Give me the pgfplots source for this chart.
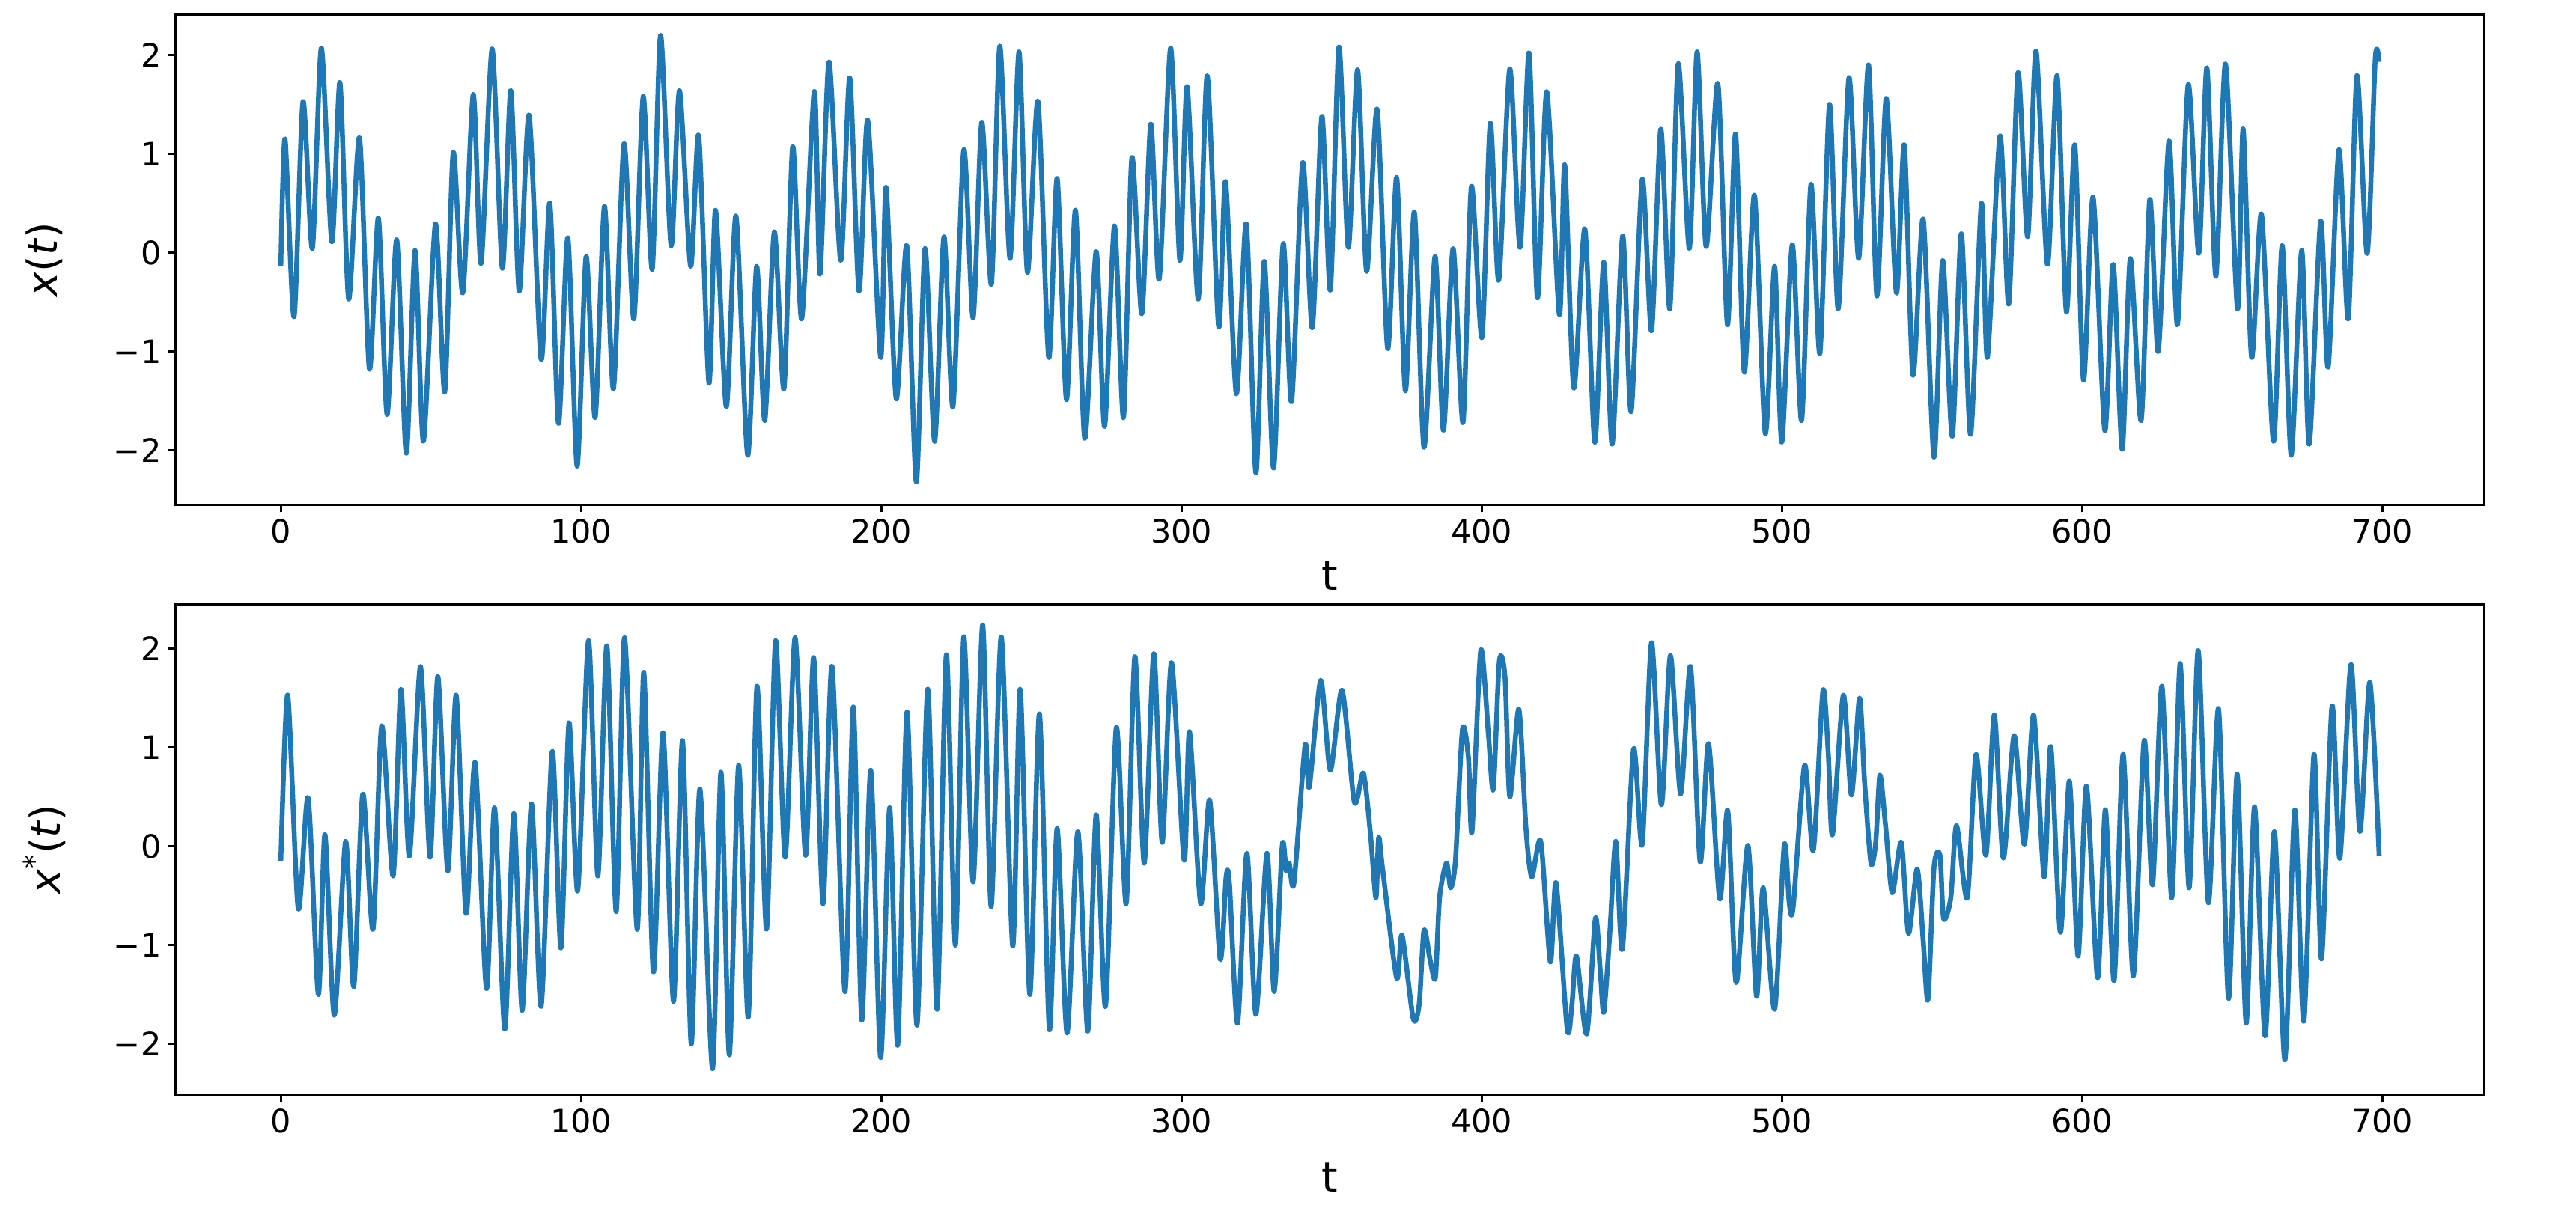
\documentclass[border=0pt]{standalone}
\usepackage{fontspec}
\setmainfont{DejaVu Sans}
\usepackage{pgfplots}
\pgfplotsset{compat=1.18}
\definecolor{mplblue}{HTML}{1F77B4}
\pgfplotsset{
  myax/.style={
    scale only axis, width=896bp, height=190.3bp,
    xmin=-34.95, xmax=733.95,
    axis line style={black, line width=0.9bp},
    tick style={black, line width=0.9bp},
    tick align=outside, tick pos=left,
    major tick length=3bp,
    xtick={0,100,200,300,400,500,600,700},
    xticklabels={0,100,200,300,400,500,600,700},
    ytick={-2,-1,0,1,2},
    yticklabels={−2,−1,0,1,2},
    tick label style={font=\fontsize{12.5bp}{14bp}\selectfont},
    xticklabel style={inner sep=2.5bp},
    yticklabel style={inner sep=2.5bp},
    label style={font=\fontsize{16bp}{19bp}\selectfont},
    xlabel={t},
    ylabel style={at={(axis description cs:-0.057,0.5)}, anchor=center, rotate=0},
  },
  myline/.style={mplblue, line width=1.9bp, line join=round, no markers, smooth, tension=0.45},
}
\begin{document}
\begin{tikzpicture}
\useasboundingbox (-68.3bp,-50.9bp) rectangle (931.7bp,424.9bp);
\begin{axis}[myax, at={(0bp,229bp)}, anchor=south west, ymin=-2.55, ymax=2.41,
  xlabel style={at={(axis description cs:0.5,-0.145)}, anchor=center},
  ylabel={\textit{x}(\textit{t})}]
\addplot[myline] coordinates {
(0,-0.14) (1.4,1.15) (4.4,-0.65) (7.4,1.53) (10.5,0.04) (13.5,2.07) (17.0,0.11) (19.7,1.72)
(22.6,-0.47) (26.2,1.16) (29.5,-1.18) (32.5,0.35) (35.4,-1.64) (38.6,0.13) (41.8,-2.03) (44.7,0.02)
(47.5,-1.91) (51.5,0.29) (54.6,-1.41) (57.4,1.01) (60.6,-0.41) (64.1,1.60) (66.7,-0.11) (70.4,2.06)
(73.8,-0.16) (76.6,1.64) (79.4,-0.39) (82.7,1.39) (86.7,-1.08) (89.6,0.50) (92.5,-1.73) (95.6,0.15)
(98.7,-2.16) (101.7,-0.04) (104.7,-1.67) (107.8,0.47) (110.8,-1.38) (114.3,1.10) (117.6,-0.67) (120.7,1.58)
(123.7,-0.17) (126.5,2.20) (130.0,0.07) (132.8,1.64) (136.5,-0.14) (139.2,1.18) (142.6,-1.32) (144.8,0.43)
(148.4,-1.56) (151.6,0.37) (155.5,-2.05) (158.5,-0.14) (161.2,-1.70) (164.4,0.21) (167.6,-1.38) (170.5,1.07)
(173.5,-0.67) (177.7,1.63) (179.6,-0.22) (182.6,1.93) (186.5,-0.08) (189.5,1.77) (192.6,-0.39) (195.5,1.34)
(199.8,-1.06) (201.6,0.66) (205.0,-1.48) (208.5,0.07) (211.7,-2.32) (214.6,0.04) (217.8,-1.91) (220.9,0.16)
(223.9,-1.56) (227.5,1.04) (230.6,-0.66) (233.5,1.32) (236.7,-0.32) (239.5,2.09) (242.9,-0.06) (245.9,2.03)
(248.7,-0.20) (252.2,1.53) (255.8,-1.06) (258.6,0.75) (261.7,-1.49) (264.7,0.43) (267.8,-1.88) (271.6,0.01)
(274.4,-1.76) (277.7,0.27) (280.7,-1.67) (283.5,0.96) (286.8,-0.62) (289.8,1.30) (292.6,-0.27) (296.4,2.07)
(299.5,-0.08) (301.9,1.68) (305.6,-0.47) (308.6,1.79) (312.4,-0.75) (314.7,0.72) (318.3,-1.43) (321.6,0.29)
(324.8,-2.23) (327.6,-0.09) (330.7,-2.18) (333.9,0.09) (336.7,-1.51) (340.4,0.91) (343.6,-0.76) (346.8,1.38)
(349.6,-0.38) (352.5,2.08) (355.6,0.05) (358.7,1.85) (361.7,-0.19) (365.2,1.45) (368.7,-0.97) (371.7,0.76)
(374.6,-1.40) (377.6,0.41) (380.8,-1.97) (384.5,-0.04) (387.3,-1.80) (390.5,0.04) (393.8,-1.72) (396.6,0.67)
(400.1,-0.86) (402.9,1.31) (405.7,-0.28) (409.4,1.86) (412.8,0.05) (415.8,2.02) (418.6,-0.46) (421.7,1.63)
(425.9,-0.63) (427.7,0.89) (430.7,-1.37) (434.4,0.24) (437.7,-1.92) (440.7,-0.10) (443.5,-1.94) (447.0,0.17)
(449.8,-1.61) (453.5,0.74) (456.6,-0.79) (459.7,1.25) (462.7,-0.57) (465.5,1.91) (469.2,0.04) (471.8,2.03)
(474.8,0.06) (478.7,1.71) (481.9,-0.73) (484.6,1.20) (487.5,-1.21) (490.9,0.58) (494.5,-1.83) (497.6,-0.14)
(500.0,-1.92) (503.5,0.08) (506.6,-1.70) (509.7,0.69) (512.7,-1.02) (515.9,1.50) (518.8,-0.57) (522.4,1.77)
(525.6,-0.06) (528.9,1.90) (531.7,-0.44) (534.8,1.56) (538.2,-0.41) (540.8,1.09) (543.7,-1.24) (547.1,0.34)
(550.7,-2.07) (553.6,-0.08) (556.8,-1.86) (559.8,0.19) (562.9,-1.84) (566.5,0.50) (568.5,-1.06) (572.7,1.18)
(575.6,-0.52) (578.7,1.82) (581.9,0.16) (584.7,2.04) (588.5,-0.12) (591.7,1.79) (594.8,-0.60) (597.6,1.09)
(600.5,-1.29) (603.7,0.56) (607.6,-1.80) (610.4,-0.12) (613.4,-1.99) (616.1,-0.06) (619.7,-1.70) (622.6,0.54)
(625.4,-1.00) (629.0,1.13) (631.8,-0.73) (635.4,1.70) (638.9,-0.01) (641.6,1.87) (644.6,-0.24) (647.8,1.91)
(651.8,-0.57) (653.7,1.25) (656.5,-1.06) (659.8,0.39) (663.8,-1.91) (666.7,0.07) (669.7,-2.05) (673.2,0.02)
(675.7,-1.94) (679.5,0.32) (682.0,-1.16) (685.6,1.04) (688.7,-0.67) (691.6,1.79) (695.0,-0.01) (697.7,1.96)
(699,1.93)
};
\end{axis}
\begin{axis}[myax, at={(0bp,0bp)}, anchor=south west, ymin=-2.51, ymax=2.45,
  xlabel style={at={(axis description cs:0.5,-0.17)}, anchor=center},
  ylabel={\textit{x}\textsuperscript{*}(\textit{t})}]
\addplot[myline] coordinates {
(0,-0.15) (2.3,1.53) (5.8,-0.63) (9.1,0.49) (12.5,-1.50) (14.7,0.12) (17.8,-1.71) (21.6,0.05)
(24.3,-1.42) (27.3,0.53) (30.7,-0.84) (33.6,1.22) (37.4,-0.30) (40.0,1.59) (42.8,-0.10) (46.5,1.82)
(49.7,-0.11) (52.3,1.72) (55.6,-0.25) (58.4,1.53) (61.7,-0.68) (64.7,0.85) (68.5,-1.44) (71.2,0.39)
(74.6,-1.85) (77.6,0.33) (80.4,-1.66) (83.5,0.43) (86.7,-1.62) (90.4,0.96) (93.3,-1.03) (96.0,1.25)
(98.9,-0.45) (102.5,2.08) (105.6,-0.30) (108.6,2.03) (111.7,-0.66) (114.5,2.11) (118.7,-0.84) (120.9,1.76)
(124.1,-1.27) (127.3,1.15) (130.8,-1.57) (133.8,1.07) (136.7,-2.00) (139.6,0.58) (143.8,-2.25) (146.6,0.75)
(149.4,-2.11) (152.5,0.82) (155.7,-1.73) (158.6,1.62) (161.8,-0.84) (164.8,2.08) (168.0,-0.11) (171.3,2.11)
(174.8,-0.09) (177.5,1.91) (180.6,-0.58) (183.6,1.82) (187.9,-1.47) (190.7,1.41) (193.5,-1.76) (196.5,0.77)
(199.8,-2.14) (202.8,0.39) (205.5,-2.01) (208.6,1.36) (211.9,-1.81) (215.5,1.59) (218.6,-1.65) (221.7,1.94)
(224.7,-1.00) (227.5,2.12) (230.6,-0.36) (233.8,2.24) (236.6,-0.61) (240.0,2.12) (243.8,-1.01) (246.3,1.59)
(249.5,-1.50) (252.7,1.34) (256.0,-1.85) (258.6,0.18) (261.9,-1.89) (265.5,0.15) (268.8,-1.87) (271.6,0.32)
(274.7,-1.62) (278.3,1.20) (281.6,-0.58) (284.5,1.92) (287.6,-0.17) (290.8,1.95) (293.6,0.04) (296.7,1.86)
(300.9,-0.14) (302.7,1.16) (306.4,-0.58) (309.4,0.47) (312.9,-1.14) (314.9,-0.31) (316.0,-0.38) (318.7,-1.79)
(321.8,-0.07) (324.8,-1.70) (328.5,-0.07) (330.9,-1.47) (333.6,0.01) (334.9,-0.25) (335.9,-0.17) (337.5,-0.37)
(341.2,1.02) (342.6,0.60) (346.4,1.68) (349.6,0.77) (353.5,1.58) (357.6,0.45) (360.6,0.74) (362.9,0.15)
(364.8,-0.52) (365.7,0.09) (367.1,-0.25) (371.7,-1.33) (373.5,-0.90) (377.2,-1.74) (379.2,-1.60) (380.8,-0.85)
(382.8,-1.14) (384.6,-1.33) (386.0,-0.52) (388.3,-0.17) (389.7,-0.42) (391.3,-0.14) (393.6,1.18) (395.6,0.90)
(396.8,0.15) (399.7,1.98) (402.3,1.12) (403.9,0.58) (405.9,1.87) (407.8,1.71) (409.4,0.50) (412.4,1.39)
(414.8,0.17) (416.7,-0.31) (419.7,0.05) (422.9,-1.17) (424.8,-0.37) (428.5,-1.85) (430.1,-1.60) (431.6,-1.11)
(435.0,-1.90) (437.9,-0.73) (439.5,-1.25) (440.7,-1.68) (442.7,-0.88) (444.7,0.05) (446.9,-1.04) (450.6,0.98)
(453.5,0.02) (456.6,2.06) (459.9,0.42) (462.9,1.93) (466.3,0.53) (469.6,1.82) (472.8,-0.16) (475.6,1.04)
(479.3,-0.53) (482.0,0.36) (484.8,-1.38) (488.7,0.01) (491.6,-1.52) (493.8,-0.42) (497.6,-1.65) (500.8,0.01)
(502.5,-0.58) (503.8,-0.61) (507.6,0.82) (510.5,-0.04) (513.7,1.57) (515.5,0.93) (516.9,0.12) (520.5,1.53)
(523.2,0.52) (525.9,1.50) (527.6,0.64) (529.7,-0.17) (531.3,0.04) (532.7,0.72) (534.6,0.20) (536.8,-0.47)
(539.8,0.04) (542.2,-0.88) (545.1,-0.23) (547.1,-0.95) (548.7,-1.55) (550.7,-0.22) (552.7,-0.09) (553.9,-0.73)
(556.3,-0.52) (558.2,0.21) (561.8,-0.52) (564.7,0.93) (568.0,-0.09) (570.8,1.33) (573.8,-0.12) (577.4,1.12)
(580.8,0.02) (583.9,1.33) (587.4,-0.31) (589.6,1.01) (592.8,-0.87) (595.8,0.66) (598.7,-1.11) (601.5,0.61)
(605.2,-1.33) (607.8,0.37) (610.7,-1.36) (613.7,0.93) (617.1,-1.31) (620.7,1.07) (623.5,-0.39) (626.6,1.62)
(629.9,-0.52) (632.7,1.85) (635.7,-0.42) (638.7,1.98) (642.1,-0.57) (645.5,1.39) (648.8,-1.54) (651.7,0.73)
(654.7,-1.79) (657.5,0.40) (661.0,-1.92) (664.1,0.15) (667.6,-2.16) (670.9,0.37) (673.9,-1.77) (677.3,0.93)
(679.8,-1.14) (683.3,1.42) (685.9,-0.12) (689.6,1.84) (692.6,0.15) (695.9,1.66) (699,-0.10)
};
\end{axis}
\end{tikzpicture}
\end{document}
